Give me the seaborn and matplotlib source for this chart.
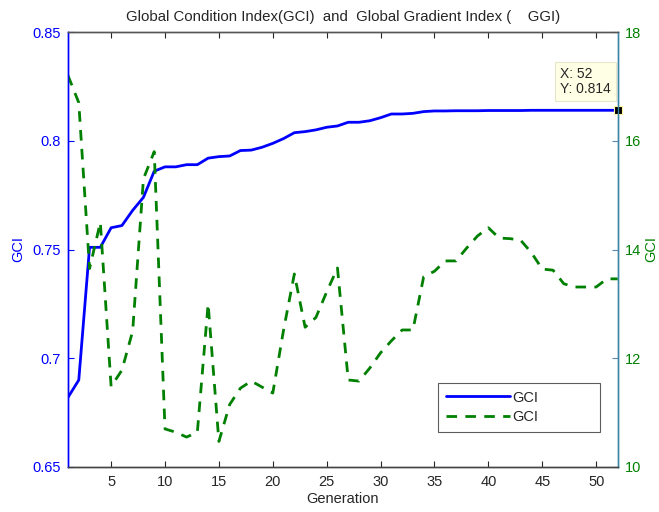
import numpy as np
import pandas as pd
import matplotlib
matplotlib.use("Agg")
import matplotlib.pyplot as plt
import seaborn as sns

generation = list(range(1, 53))
gci = [0.682, 0.690, 0.751, 0.751, 0.760, 0.761, 0.768, 0.774, 0.786, 0.788,
       0.788, 0.789, 0.789, 0.792, 0.7927, 0.793, 0.7955, 0.7957, 0.797, 0.7988,
       0.801, 0.8037, 0.8042, 0.805, 0.8062, 0.8068, 0.8085, 0.8085, 0.8092, 0.8106,
       0.8123, 0.8123, 0.8126, 0.8134, 0.8137, 0.8137, 0.8138, 0.8138, 0.8138, 0.8139,
       0.8139, 0.8139, 0.8139, 0.814, 0.814, 0.814, 0.814, 0.814, 0.814, 0.814, 0.814, 0.814]
ggi = [17.2, 16.7, 13.65, 14.5, 11.48, 11.78, 12.5, 15.3, 15.8, 10.7,
       10.64, 10.55, 10.64, 13.0, 10.47, 11.15, 11.45, 11.58, 11.47, 11.36,
       12.52, 13.55, 12.57, 12.75, 13.22, 13.66, 11.6, 11.58, 11.82, 12.1,
       12.32, 12.52, 12.52, 13.5, 13.6, 13.79, 13.79, 14.03, 14.25, 14.4,
       14.21, 14.2, 14.17, 13.94, 13.64, 13.62, 13.37, 13.31, 13.31, 13.31, 13.46, 13.46]
x_ticks = [5, 10, 15, 20, 25, 30, 35, 40, 45, 50]
left_ticks = [0.65, 0.7, 0.75, 0.8, 0.85]
left_labels = ["0.65", "0.7", "0.75", "0.8", "0.85"]
right_ticks = [10, 12, 14, 16, 18]
title = "Global Condition Index(GCI)  and  Global Gradient Index (    GGI)"

df = pd.DataFrame({"Generation": generation, "GCI": gci, "GGI": ggi})

sns.set_style("white")
plt.rcParams["font.family"] = ["Liberation Sans", "DejaVu Sans"]

BLUE = (0, 0, 1)
GREEN = (0, 0.5, 0)
GRAY = "#262626"

fig = plt.figure(figsize=(6.59, 5.12), dpi=100)
ax = fig.add_axes([68 / 659, 1 - 467 / 512, (617.7 - 68) / 659, (467 - 32) / 512])
ax2 = ax.twinx()

sns.lineplot(data=df, x="Generation", y="GCI", ax=ax, color=BLUE, linewidth=2.0, label="GCI", legend=False)
sns.lineplot(data=df, x="Generation", y="GGI", ax=ax2, color=GREEN, linewidth=2.0,
             linestyle=(0, (3.8, 3.0)), label="GCI", legend=False)

ax.set_xlim(1, 52)
ax.set_ylim(0.65, 0.85)
ax2.set_ylim(10, 18)
ax.set_xticks(x_ticks)
ax.set_yticks(left_ticks)
ax.set_yticklabels(left_labels)
ax2.set_yticks(right_ticks)

fs = 10.5
ax.tick_params(axis="x", direction="in", top=True, bottom=True, length=4, width=0.8,
               colors=GRAY, labelsize=fs, pad=6)
ax.tick_params(axis="y", direction="in", left=True, length=4, width=0.8,
               colors=BLUE, labelsize=fs, pad=5)
ax2.tick_params(axis="y", direction="in", right=True, length=4, width=0.8,
                color="#5b87b0", labelcolor=GREEN, labelsize=fs, pad=5)

for a in (ax, ax2):
    for s in a.spines.values():
        s.set_linewidth(1.0)
    a.spines["top"].set_color("#555555")
    a.spines["bottom"].set_color("#444444")
    a.spines["left"].set_color(BLUE)
    a.spines["right"].set_color("#3a86a8")

ax.set_xlabel("Generation", fontsize=fs, color=GRAY, labelpad=2)
ax.set_ylabel("GCI", fontsize=fs, color=BLUE, va="center")
ax.yaxis.set_label_coords((18 - 68) / 549.7, 0.5)
ax2.set_ylabel("GCI", fontsize=fs, color=GREEN, rotation=90, va="center")
ax2.yaxis.set_label_coords((651 - 68) / 549.7, 0.5)
ax.set_title(title, fontsize=10.8, color=GRAY, pad=8)

h1 = ax.get_lines()[0]
h2 = ax2.get_lines()[0]
leg = ax2.legend(handles=[h1, h2], labels=["GCI", "GCI"], loc="upper left",
                 bbox_to_anchor=(0.6737, 0.0824, 0.2943, 0.11), mode="expand",
                 frameon=True, fancybox=False, fontsize=fs, handlelength=4.4,
                 borderpad=0.5, labelspacing=0.4, handletextpad=0.15, borderaxespad=0)
leg.get_frame().set_edgecolor("#333333")
leg.get_frame().set_linewidth(0.8)
for t in leg.get_texts():
    t.set_color(GRAY)

# data tip on the last point
ax.plot([generation[-1]], [gci[-1]], marker="s", markersize=6, color="black",
        markeredgecolor="#fff6a0", markeredgewidth=0.8, clip_on=False, zorder=5)
ax.annotate(f"X: {generation[-1]}\nY: {gci[-1]:.3f}", xy=(generation[-1], gci[-1]),
            xytext=(-7, 14), textcoords="offset pixels", ha="right", va="bottom",
            multialignment="left", fontsize=10, color=GRAY, linespacing=1.15,
            bbox=dict(boxstyle="square,pad=0.35", fc="#ffffe6", ec="#e6e6cc", lw=0.8),
            annotation_clip=False, zorder=6)

fig.savefig("out.png", dpi=100)
